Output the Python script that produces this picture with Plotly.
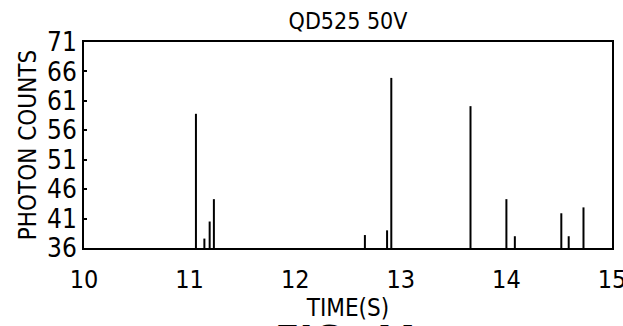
import plotly.graph_objects as go

times = [11.06, 11.14, 11.19, 11.23, 12.66, 12.87, 12.91, 13.66, 14.00, 14.08, 14.52, 14.59, 14.73]
counts = [58.8, 37.6, 40.5, 44.3, 38.2, 39.0, 64.9, 60.1, 44.3, 38.0, 41.9, 38.0, 42.9]
baseline = 36
y_ticks = [36, 41, 46, 51, 56, 61, 66, 71]
x_ticks = [10, 11, 12, 13, 14, 15]

xs, ys = [], []
for t, c in zip(times, counts):
    xs += [t, t, None]
    ys += [baseline, c, None]

FONT = "DejaVu Sans Condensed, Liberation Sans Narrow, Arial Narrow, sans-serif"

fig = go.Figure()
fig.add_trace(go.Scatter(x=xs, y=ys, mode="lines",
                         line=dict(color="black", width=2), showlegend=False,
                         hoverinfo="skip"))

fig.update_layout(
    width=623, height=326,
    margin=dict(l=84, r=11, t=42, b=78),
    paper_bgcolor="white", plot_bgcolor="white",
    font=dict(family=FONT, color="black"),
    title=dict(text="QD525 50V", x=0.5, xanchor="center", xref="paper",
               y=1, yref="container", yanchor="top", pad=dict(t=13),
               font=dict(size=23, family=FONT, color="black")),
    xaxis=dict(range=[10, 15], tickvals=x_ticks, ticktext=[str(v) for v in x_ticks],
               showgrid=False, zeroline=False, showline=True, mirror=True,
               linecolor="black", linewidth=2, ticks="inside", ticklen=0,
               ticklabeloverflow="allow", automargin=False,
               tickfont=dict(size=25, family=FONT), ticklabelstandoff=8,
               title=dict(text="TIME(S)", font=dict(size=24, family=FONT), standoff=0)),
    yaxis=dict(range=[36, 71], tickvals=y_ticks, ticktext=[str(v) for v in y_ticks],
               showgrid=False, zeroline=False, showline=True, mirror=True,
               linecolor="black", linewidth=2, ticks="inside", ticklen=3, tickwidth=2,
               tickcolor="black", automargin=False,
               tickfont=dict(size=26, family=FONT), ticklabelstandoff=0,
               title=dict(text="PHOTON COUNTS", font=dict(size=24, family=FONT), standoff=4)),
)

fig.add_annotation(text="<b>FIG. 4A</b>", xref="paper", yref="paper", x=0.5, y=-0.332,
                   xanchor="center", yanchor="top", showarrow=False,
                   font=dict(size=40, family="DejaVu Sans Condensed, Liberation Sans, sans-serif",
                             color="black"))

fig.write_html("out.html")
